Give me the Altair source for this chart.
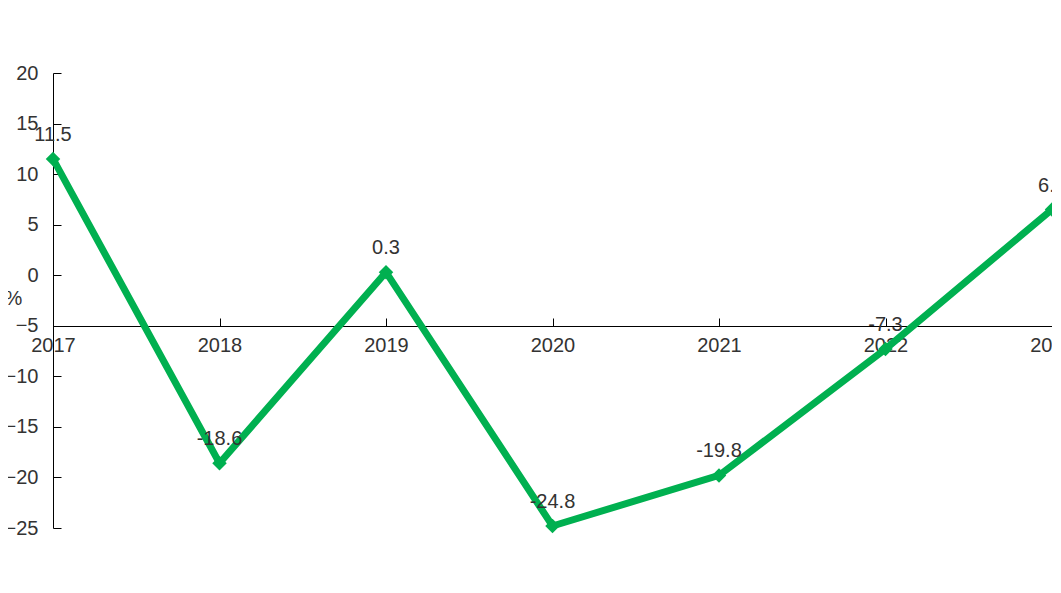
import altair as alt
import pandas as pd

years = [2017, 2018, 2019, 2020, 2021, 2022, 2023]
values = [11.5, -18.6, 0.3, -24.8, -19.8, -7.3, 6.5]
labels = ["11.5", "-18.6", "0.3", "-24.8", "-19.8", "-7.3", "6.5"]
y_ticks = [20, 15, 10, 5, 0, -5, -10, -15, -20, -25]

df = pd.DataFrame({"year": years, "value": values, "label": labels})

GREEN = "#00B050"
TEXT = "#333333"
FONT = "Liberation Sans"
W, H = 999, 455
PX_PER_UNIT = H / 45.0
AXIS_Y_OFFSET = -round((-5 - (-25)) * PX_PER_UNIT)   # bottom axis moved up to y=-5
TOP_OFFSET = -round((20 - (-5)) * PX_PER_UNIT)       # top axis moved down to y=-5

xscale = alt.Scale(domain=[2017, 2023], nice=False, zero=False)
yscale = alt.Scale(domain=[-25, 20], nice=False, zero=False)

base = alt.Chart(df)

line = base.mark_line(color=GREEN, strokeWidth=7, strokeJoin="miter").encode(
    x=alt.X("year:Q", scale=xscale,
            axis=alt.Axis(orient="bottom", offset=AXIS_Y_OFFSET, values=years,
                          format="d", ticks=False, tickSize=0, labelPadding=9,
                          labelFontSize=20, labelColor=TEXT, labelFont=FONT,
                          domainColor="#000000", domainWidth=1, grid=False,
                          title=None, labelFlush=False, labelOverlap=False)),
    y=alt.Y("value:Q", scale=yscale,
            axis=alt.Axis(orient="left", values=y_ticks, ticks=False, tickSize=0,
                          labelPadding=15, labelFontSize=20, labelColor=TEXT,
                          labelFont=FONT, domainColor="#000000", domainWidth=1,
                          grid=False, title="%", titleAngle=0, titleX=-40,
                          titleY=225, titleAlign="center", titleBaseline="middle",
                          titleFontSize=20, titleFontWeight="normal",
                          titleColor=TEXT, titleFont=FONT,
                          labelFlush=False, labelOverlap=False)),
)

points = base.mark_point(shape="diamond", filled=True, size=210, color=GREEN,
                         opacity=1).encode(
    x=alt.X("year:Q", scale=xscale,
            axis=alt.Axis(orient="top", offset=TOP_OFFSET, values=years,
                          labels=False, domain=False, ticks=True, tickSize=8,
                          tickColor="#000000", tickWidth=1, grid=False,
                          title=None)),
    y=alt.Y("value:Q", scale=yscale,
            axis=alt.Axis(orient="right", offset=-W, values=y_ticks,
                          labels=False, domain=False, ticks=True, tickSize=8,
                          tickColor="#000000", tickWidth=1, grid=False,
                          title=None)),
)

text = base.mark_text(fontSize=20, color=TEXT, font=FONT, dy=-18,
                      baseline="alphabetic", align="center").encode(
    x=alt.X("year:Q", scale=xscale, axis=None),
    y=alt.Y("value:Q", scale=yscale, axis=None),
    text="label:N",
)

chart = alt.layer(line, points, text).resolve_axis(
    x="independent", y="independent"
).properties(
    width=W, height=H,
    autosize=alt.AutoSizeParams(type="none"),
    padding={"left": 45, "top": 65, "right": 0, "bottom": 30},
    background="white",
).configure_view(stroke=None)

chart.save("out.html", embed_options={"renderer": "svg", "actions": False})
